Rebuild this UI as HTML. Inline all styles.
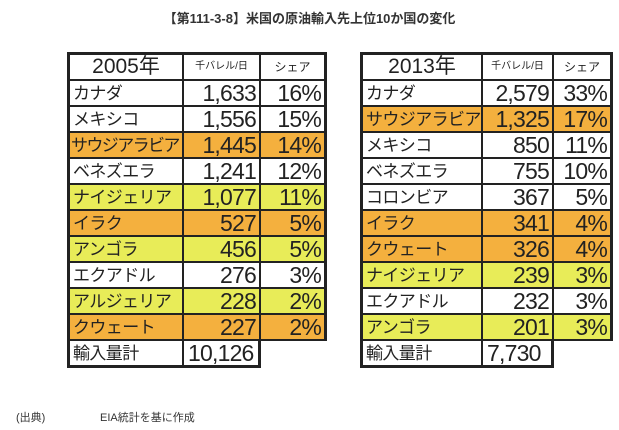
<!DOCTYPE html>
<html><head><meta charset="utf-8"><style>
body{margin:0;width:619px;height:430px;background:#fff;position:relative;overflow:hidden;font-family:"Liberation Sans","Noto Sans CJK JP",sans-serif;color:#222}
.t{position:absolute;font-weight:bold;font-size:13px;top:8px;left:0;width:619px;text-align:center;color:#333}
table{position:absolute;border-collapse:separate;border-spacing:0;table-layout:fixed;top:52px}
td{border-right:2px solid #222;border-bottom:2px solid #222;height:26px;padding:0 4px;white-space:nowrap;overflow:hidden;line-height:24px;box-sizing:border-box;vertical-align:middle}
tr:first-child td{border-top:3px solid #222}
td:first-child{border-left:3px solid #222}
td:nth-child(3){border-right:3px solid #222}
tr:last-child td{border-bottom:3px solid #222}
td.n{font-size:17px;text-align:left;padding-left:3px;padding-top:2px;letter-spacing:-0.6px;line-height:20px}
td.s{letter-spacing:-1.6px;padding-left:1px}
td.v{font-size:23px;text-align:right;letter-spacing:-0.8px;padding-right:3px}
td.h{text-align:center;height:27px}
.o td{background:#f4b03e}
.y td{background:#e8ec58}
tr td.e{border:none!important;background:#fff}
td.tot{text-align:left!important;border-right:3px solid #222}
.f{position:absolute;top:409px;font-size:11px;color:#333}
</style></head><body>
<div class="t">【第111-3-8】米国の原油輸入先上位10か国の変化</div>

<table style="left:67px;width:260px">
<colgroup><col style="width:117px"><col style="width:77px"><col style="width:66px"></colgroup>
<tr><td class="h" style="font-size:21px">2005年</td><td class="h" style="font-size:10px">千バレル/日</td><td class="h" style="font-size:12px">シェア</td></tr>
<tr><td class="n">カナダ</td><td class="v">1,633</td><td class="v">16%</td></tr>
<tr><td class="n">メキシコ</td><td class="v">1,556</td><td class="v">15%</td></tr>
<tr class="o"><td class="n s">サウジアラビア</td><td class="v">1,445</td><td class="v">14%</td></tr>
<tr><td class="n">ベネズエラ</td><td class="v">1,241</td><td class="v">12%</td></tr>
<tr class="y"><td class="n">ナイジェリア</td><td class="v">1,077</td><td class="v">11%</td></tr>
<tr class="o"><td class="n">イラク</td><td class="v">527</td><td class="v">5%</td></tr>
<tr class="y"><td class="n">アンゴラ</td><td class="v">456</td><td class="v">5%</td></tr>
<tr><td class="n">エクアドル</td><td class="v">276</td><td class="v">3%</td></tr>
<tr class="y"><td class="n">アルジェリア</td><td class="v">228</td><td class="v">2%</td></tr>
<tr class="o"><td class="n">クウェート</td><td class="v">227</td><td class="v">2%</td></tr>
<tr><td class="n">輸入量計</td><td class="v tot">10,126</td><td class="e"></td></tr>
</table>

<table style="left:360px;width:253px">
<colgroup><col style="width:123px"><col style="width:71px"><col style="width:59px"></colgroup>
<tr><td class="h" style="font-size:21px">2013年</td><td class="h" style="font-size:10px">千バレル/日</td><td class="h" style="font-size:12px">シェア</td></tr>
<tr><td class="n">カナダ</td><td class="v">2,579</td><td class="v">33%</td></tr>
<tr class="o"><td class="n">サウジアラビア</td><td class="v">1,325</td><td class="v">17%</td></tr>
<tr><td class="n">メキシコ</td><td class="v">850</td><td class="v">11%</td></tr>
<tr><td class="n">ベネズエラ</td><td class="v">755</td><td class="v">10%</td></tr>
<tr><td class="n">コロンビア</td><td class="v">367</td><td class="v">5%</td></tr>
<tr class="o"><td class="n">イラク</td><td class="v">341</td><td class="v">4%</td></tr>
<tr class="o"><td class="n">クウェート</td><td class="v">326</td><td class="v">4%</td></tr>
<tr class="y"><td class="n">ナイジェリア</td><td class="v">239</td><td class="v">3%</td></tr>
<tr><td class="n">エクアドル</td><td class="v">232</td><td class="v">3%</td></tr>
<tr class="y"><td class="n">アンゴラ</td><td class="v">201</td><td class="v">3%</td></tr>
<tr><td class="n">輸入量計</td><td class="v tot">7,730</td><td class="e"></td></tr>
</table>

<div class="f" style="left:16px">(出典)</div>
<div class="f" style="left:100px">EIA統計を基に作成</div>
</body></html>
